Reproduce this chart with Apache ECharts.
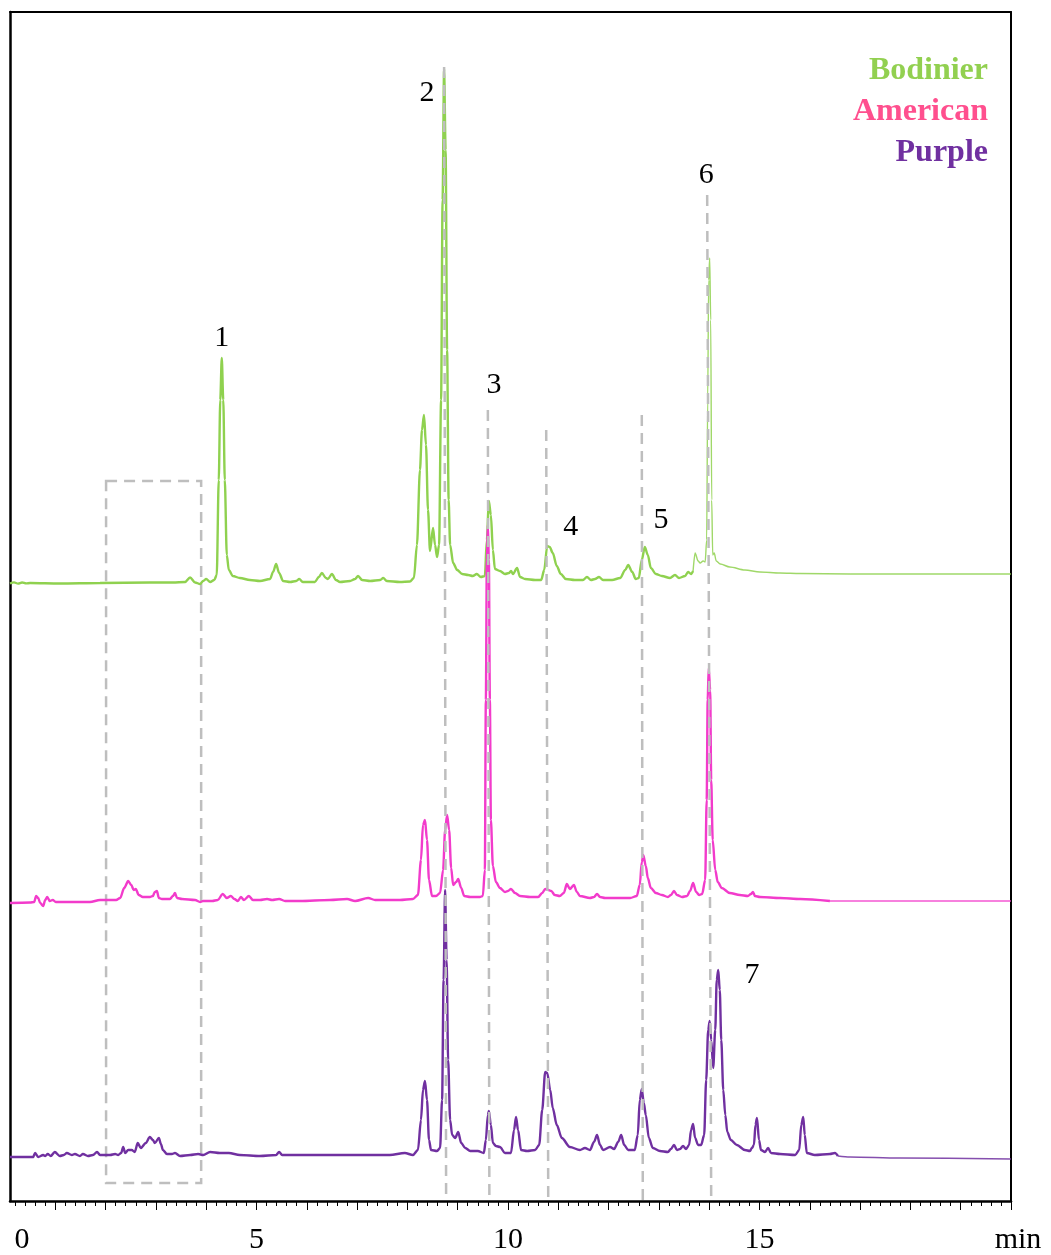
<!DOCTYPE html>
<html>
<head>
<meta charset="utf-8">
<title>Chromatograms</title>
<script src="https://cdn.jsdelivr.net/npm/echarts@6/dist/echarts.min.js"></script>
<style>
  html, body { margin: 0; padding: 0; background: #ffffff; }
  #chart { width: 1051px; height: 1255px; }
</style>
</head>
<body>
<div id="chart"></div>
<script>
// Retention time (min) and detector response above each trace's own baseline.
const bodinier = [
  [0.10,-0.5],[0.18,0.6],[0.26,-0.6],[0.34,0.5],[0.42,-0.4],[0.50,0],[1.09,-0.5],[1.89,0],[2.88,0.5],[3.34,0.5],
  [3.58,1],[3.68,5.5],[3.78,0.5],[3.88,-1],[3.94,2],[4.00,4],[4.08,1],[4.16,3],[4.21,8],[4.25,103],
  [4.28,183],[4.31,225],[4.34,183],[4.37,103],[4.41,28],[4.45,13],[4.53,7],[4.67,5],[4.87,3],[5.07,2],
  [5.27,4],[5.33,11],[5.39,19],[5.45,10],[5.53,2],[5.67,1],[5.79,2],[5.85,4],[5.92,1],[6.16,1],
  [6.24,6],[6.30,10],[6.38,5],[6.42,4],[6.50,9],[6.58,3],[6.66,1],[6.86,2],[6.96,4],[7.02,7],
  [7.10,3],[7.26,2],[7.46,3],[7.52,5],[7.59,2],[7.85,1],[8.05,1.5],[8.13,5],[8.19,38],[8.25,113],
  [8.29,153],[8.33,168],[8.37,138],[8.41,73],[8.45,32],[8.51,55],[8.55,38],[8.59,26],[8.63,38],[8.67,183],
  [8.70,383],[8.73,514],[8.76,433],[8.79,233],[8.82,83],[8.85,38],[8.91,20],[8.99,13],[9.09,9],[9.21,8],
  [9.30,7],[9.38,9],[9.46,6],[9.54,7],[9.58,43],[9.62,82],[9.66,68],[9.70,33],[9.74,14],[9.84,12],
  [9.94,9],[10.02,10],[10.06,12],[10.10,9],[10.18,15],[10.24,6],[10.34,4],[10.54,3],[10.66,3],[10.72,13],
  [10.78,37],[10.83,36],[10.89,30],[10.97,17],[11.05,9],[11.15,4],[11.33,3],[11.49,3],[11.57,6],[11.65,3],
  [11.73,4],[11.81,6],[11.89,3],[12.07,3],[12.23,5],[12.33,13],[12.39,18],[12.47,11],[12.54,4],[12.60,5],
  [12.66,23],[12.72,36],[12.78,28],[12.84,15],[12.94,9],[13.06,7],[13.22,5],[13.32,8],[13.40,5],[13.52,7],
  [13.58,11],[13.64,9],[13.68,12],[13.72,30],[13.78,22],[13.82,20],[13.88,22],[13.92,21],[13.95,43],[13.97,183],
  [13.99,303],[14.01,325],[14.03,263],[14.05,83],[14.07,28],[14.10,30],[14.14,22],[14.22,19],[14.41,16],[14.71,13],
  [15.01,11],[15.41,10],[15.81,9.5],[16.80,9],[18.79,9],[20.00,9]
];

const american = [
  [0.10,-2],[0.50,-1.5],[0.58,-1],[0.62,5],[0.66,3],[0.70,-2],[0.76,-5],[0.80,1],[0.84,4],[0.89,0],
  [0.95,1],[1.01,-1],[1.29,-1],[1.69,-1],[1.89,1],[2.21,1],[2.29,3],[2.37,13],[2.45,20],[2.51,16],
  [2.56,11],[2.60,12],[2.66,6],[2.74,4],[2.88,4],[2.94,5],[2.98,9],[3.02,10],[3.06,3],[3.12,2],
  [3.28,2],[3.34,5],[3.38,8],[3.42,3],[3.52,2],[3.78,1],[3.88,-1],[3.94,0],[4.12,0],[4.23,1],
  [4.33,7],[4.41,3],[4.49,5],[4.56,2],[4.63,0],[4.69,4],[4.75,1],[4.85,5],[4.93,1],[5.07,1],
  [5.21,2],[5.31,1],[5.45,2],[5.57,0],[5.86,0],[6.46,1],[6.80,2],[6.96,0],[7.22,3],[7.36,1],
  [7.55,1],[7.85,1],[8.11,2],[8.21,6],[8.27,41],[8.31,76],[8.35,81],[8.39,61],[8.43,21],[8.49,5],
  [8.57,5],[8.65,8],[8.71,31],[8.75,71],[8.79,86],[8.83,71],[8.87,33],[8.91,16],[8.97,19],[9.01,22],
  [9.07,13],[9.13,5],[9.25,4],[9.44,4],[9.50,5],[9.54,31],[9.56,201],[9.58,341],[9.60,376],[9.62,341],
  [9.64,201],[9.66,81],[9.70,35],[9.76,19],[9.84,13],[9.94,9],[10.00,10],[10.06,12],[10.14,8],[10.24,5],
  [10.44,4],[10.60,4],[10.68,8],[10.74,12],[10.80,11],[10.86,10],[10.93,6],[11.03,5],[11.11,8],[11.17,17],
  [11.23,12],[11.31,16],[11.37,9],[11.43,5],[11.63,3],[11.71,4],[11.77,7],[11.83,4],[11.93,3],[12.23,3],
  [12.43,3],[12.56,5],[12.62,16],[12.66,39],[12.69,46],[12.74,35],[12.78,23],[12.84,13],[12.94,8],[13.06,6],
  [13.18,4],[13.24,6],[13.30,10],[13.36,6],[13.46,4],[13.56,5],[13.62,10],[13.68,18],[13.74,9],[13.80,6],
  [13.86,7],[13.92,21],[13.95,101],[13.97,201],[13.99,233],[14.02,211],[14.04,121],[14.07,61],[14.12,31],[14.17,19],
  [14.25,13],[14.41,8],[14.61,6],[14.77,5],[14.83,7],[14.87,9],[14.91,5],[15.01,4],[15.41,3],[15.81,2],
  [16.40,0],[17.79,0],[20.00,0]
];

const purple = [
  [0.10,-1],[0.56,-1],[0.60,3],[0.66,-1],[0.76,1],[0.80,0],[0.85,2],[0.91,0],[0.99,4],[1.09,0],
  [1.17,1],[1.23,3],[1.33,1],[1.39,2],[1.49,0],[1.55,2],[1.65,0],[1.75,1],[1.83,4],[1.89,1],
  [2.09,1],[2.19,2],[2.25,1],[2.31,3],[2.35,9],[2.39,3],[2.45,6],[2.52,6],[2.58,4],[2.64,13],
  [2.70,8],[2.80,13],[2.88,19],[2.94,16],[2.98,13],[3.06,18],[3.10,12],[3.14,6],[3.22,2],[3.32,2],
  [3.38,3],[3.48,0],[3.68,1],[3.84,2],[3.94,1],[4.08,4],[4.27,3],[4.45,3],[4.67,1],[5.07,0],
  [5.39,1],[5.45,4],[5.51,1],[5.86,1],[6.46,1],[7.06,1],[7.65,1],[7.95,3],[8.11,1],[8.21,6],
  [8.27,36],[8.31,66],[8.35,75],[8.39,56],[8.43,16],[8.47,6],[8.59,5],[8.65,8],[8.69,56],[8.72,176],
  [8.75,266],[8.78,196],[8.81,96],[8.85,36],[8.89,21],[8.95,18],[9.01,24],[9.07,13],[9.15,8],[9.25,5],
  [9.40,5],[9.52,3],[9.56,16],[9.60,41],[9.62,45],[9.66,31],[9.70,13],[9.76,10],[9.84,9],[9.94,3],
  [10.06,3],[10.12,26],[10.16,39],[10.20,26],[10.26,6],[10.38,5],[10.54,6],[10.62,11],[10.68,46],[10.74,84],
  [10.78,83],[10.84,66],[10.89,48],[10.97,31],[11.07,18],[11.23,9],[11.43,6],[11.53,8],[11.63,6],[11.71,14],
  [11.77,21],[11.83,11],[11.89,6],[12.03,9],[12.11,7],[12.19,14],[12.25,21],[12.31,11],[12.39,6],[12.52,6],
  [12.58,21],[12.62,56],[12.66,67],[12.70,53],[12.74,41],[12.80,18],[12.88,8],[13.02,5],[13.18,4],[13.24,7],
  [13.30,11],[13.36,6],[13.42,7],[13.48,10],[13.54,7],[13.60,11],[13.64,26],[13.68,32],[13.72,18],[13.78,11],
  [13.84,11],[13.90,21],[13.94,76],[13.98,126],[14.01,135],[14.04,116],[14.08,88],[14.12,126],[14.15,176],[14.18,186],
  [14.21,166],[14.24,116],[14.28,66],[14.32,41],[14.36,24],[14.43,16],[14.55,11],[14.71,6],[14.81,5],[14.85,8],
  [14.89,11],[14.92,31],[14.95,38],[14.99,16],[15.03,6],[15.11,4],[15.17,8],[15.23,3],[15.41,2],[15.71,1],
  [15.79,6],[15.83,31],[15.87,39],[15.90,21],[15.94,3],[16.10,1],[16.40,2],[16.50,3],[16.56,0],[16.80,-1],
  [17.79,-2],[20.00,-3]
];

const traceNames = ['Bodinier', 'American', 'Purple'];

// Numbered compounds: [label, retention time, response level of the label]
const peakIds = [
  ['1', 4.31, 863], ['2', 8.39, 1108], ['3', 9.72, 816], ['4', 11.25, 674],
  ['5', 13.04, 681], ['6', 13.94, 1026], ['7', 14.85, 226]
];

// Guide lines through shared peaks: [time at top, time at bottom, top level]
const peakGuides = [
  [8.73, 8.77, 1134], [9.60, 9.63, 791], [10.76, 10.80, 771], [12.66, 12.68, 786], [13.96, 14.04, 1006]
];

// Highlighted early-eluting window: [t start, t end, lower level, upper level]
const earlyWindow = [2.01, 3.90, 18, 720];

// Time axis labels
const tickLabelValues = [0, 5, 10, 15, 20];
const tickLabelTexts = ['0', '5', '10', '15', 'min'];

// ---- drawing ----
const X_MIN = 0.1, X_MAX = 20, Y_MAX = 1189;
const colors = { Bodinier: '#8FD14F', American: '#F23BCB', Purple: '#7030A0' };
const legendColors = { Bodinier: '#92D050', American: '#FF4F8E', Purple: '#7030A0' };
const baseline = { Bodinier: 618, American: 300, Purple: 45 };
const thinFrom = { Bodinier: 13.68, American: 16.40, Purple: 16.56 };
const serif = '"Liberation Serif", "Times New Roman", serif';

const majorTicks = [];
for (let t = 1; t <= 20; t++) majorTicks.push(t);
const minorTicks = [];
for (let k = 1; k <= 100; k++) { const t = k * 0.2; if (Math.abs(t - Math.round(t)) > 1e-6) minorTicks.push(+t.toFixed(1)); }

const traces = { Bodinier: bodinier, American: american, Purple: purple };

function lineSeries(name, part) {
  const cut = thinFrom[name];
  const pts = traces[name]
    .filter(p => part === 'main' ? p[0] <= cut : p[0] >= cut)
    .map(p => [p[0], p[1] + baseline[name]]);
  return {
    name: name,
    type: 'line',
    data: pts,
    symbol: 'none',
    smooth: 0.3,
    smoothMonotone: 'x',
    clip: true,
    z: 3,
    itemStyle: { color: colors[name] },
    lineStyle: { color: colors[name], width: part === 'main' ? 2.4 : 1.4, opacity: part === 'main' ? 1 : 0.85 }
  };
}

const series = [];
traceNames.forEach(n => { series.push(lineSeries(n, 'main')); series.push(lineSeries(n, 'tail')); });

const guideStyle = { color: '#BEBEBE', width: 2.5, type: [11, 7] };

series.push({
  name: 'peak ids',
  type: 'scatter',
  z: 10,
  symbolSize: 1,
  itemStyle: { color: 'rgba(0,0,0,0)' },
  silent: true,
  data: peakIds.map(p => ({ name: p[0], value: [p[1], p[2]] })),
  label: {
    show: true, position: 'inside', formatter: '{b}',
    fontFamily: serif, fontSize: 30, color: '#000000', opacity: 1,
    textBorderWidth: 0, textShadowBlur: 0
  },
  markLine: {
    silent: true, symbol: 'none', animation: false,
    label: { show: false },
    lineStyle: guideStyle,
    data: peakGuides.map(g => [{ coord: [g[0], g[2]] }, { coord: [g[1], 0] }])
  },
  markArea: {
    silent: true,
    itemStyle: { color: 'rgba(0,0,0,0)', borderColor: '#BEBEBE', borderWidth: 2.5, borderType: [11, 7] },
    data: [[{ coord: [earlyWindow[0], earlyWindow[3]] }, { coord: [earlyWindow[1], earlyWindow[2]] }]]
  }
});

const chart = echarts.init(document.getElementById('chart'), null, { renderer: 'canvas' });
chart.setOption({
  animation: false,
  backgroundColor: '#ffffff',
  grid: { left: 10, right: 40, top: 12, bottom: 54 },
  legend: {
    data: traceNames.map(n => ({ name: n, textStyle: { color: legendColors[n] } })),
    orient: 'vertical',
    align: 'right',
    right: 57,
    top: 55,
    padding: 0,
    itemGap: 9,
    itemWidth: 0,
    itemHeight: 0,
    selectedMode: false,
    textStyle: { fontFamily: serif, fontSize: 32, fontWeight: 'bold' }
  },
  xAxis: [
    {
      type: 'value', min: X_MIN, max: X_MAX, position: 'bottom',
      axisLine: { show: true, onZero: false, lineStyle: { color: '#000', width: 2.5 } },
      axisTick: { show: true, customValues: majorTicks, length: 9, lineStyle: { color: '#000', width: 1 } },
      axisLabel: {
        show: true,
        customValues: tickLabelValues.map(v => Math.max(v, X_MIN)),
        margin: 24,
        color: '#000', fontFamily: serif, fontSize: 30,
        formatter: function (value) {
          let best = 0;
          tickLabelValues.forEach((v, i) => {
            if (Math.abs(Math.max(v, X_MIN) - value) < Math.abs(Math.max(tickLabelValues[best], X_MIN) - value)) best = i;
          });
          if (best === 0) return '{first|' + tickLabelTexts[best] + '}';
          if (best === tickLabelTexts.length - 1) return '{last|' + tickLabelTexts[best] + '}';
          return tickLabelTexts[best];
        },
        rich: {
          first: { fontFamily: serif, fontSize: 30, color: '#000', padding: [0, 0, 0, 24] },
          last: { fontFamily: serif, fontSize: 30, color: '#000', padding: [0, 0, 0, 14] }
        }
      },
      splitLine: { show: false }
    },
    {
      type: 'value', min: X_MIN, max: X_MAX, position: 'bottom',
      axisLine: { show: false },
      axisTick: { show: true, customValues: minorTicks, length: 5, lineStyle: { color: '#000', width: 1 } },
      axisLabel: { show: false },
      splitLine: { show: false }
    },
    {
      type: 'value', min: X_MIN, max: X_MAX, position: 'top',
      axisLine: { show: true, onZero: false, lineStyle: { color: '#000', width: 2 } },
      axisTick: { show: false }, axisLabel: { show: false }, splitLine: { show: false }
    }
  ],
  yAxis: [
    {
      type: 'value', min: 0, max: Y_MAX, position: 'left',
      axisLine: { show: true, onZero: false, lineStyle: { color: '#000', width: 2.5 } },
      axisTick: { show: false }, axisLabel: { show: false }, splitLine: { show: false }
    },
    {
      type: 'value', min: 0, max: Y_MAX, position: 'right',
      axisLine: { show: true, onZero: false, lineStyle: { color: '#000', width: 2 } },
      axisTick: { show: false }, axisLabel: { show: false }, splitLine: { show: false }
    }
  ],
  series: series
});
</script>
</body>
</html>
